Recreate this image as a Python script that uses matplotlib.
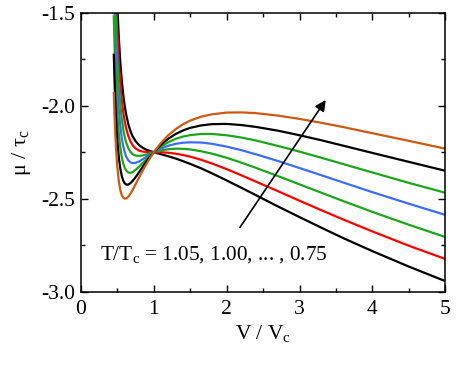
import matplotlib
matplotlib.use("Agg")
import matplotlib.pyplot as plt
from matplotlib.ticker import MultipleLocator

V = [0.45,0.46,0.47,0.48,0.49,0.50,0.52,0.54,0.56,0.58,0.60,0.62,0.65,0.68,0.71,0.75,0.8,0.85,0.9,0.95,
     1.0,1.1,1.2,1.3,1.4,1.5,1.65,1.8,2.0,2.2,2.4,2.7,3.0,3.3,3.6,4.0,4.5,5.0]

mu_105 = [-0.695,-0.909,-1.087,-1.236,-1.362,-1.469,-1.64,-1.768,-1.866,-1.941,-2,-2.047,-2.1,-2.138,-2.165,-2.191,-2.213,-2.227,-2.237,-2.244,-2.25,-2.261,-2.272,-2.284,-2.298,-2.313,-2.337,-2.364,-2.402,-2.441,-2.481,-2.541,-2.599,-2.656,-2.712,-2.782,-2.865,-2.943]
mu_100 = [-0.9,-1.099,-1.263,-1.401,-1.516,-1.614,-1.768,-1.883,-1.968,-2.034,-2.084,-2.122,-2.164,-2.193,-2.213,-2.23,-2.242,-2.247,-2.249,-2.25,-2.25,-2.25,-2.253,-2.258,-2.265,-2.274,-2.291,-2.311,-2.341,-2.374,-2.408,-2.459,-2.511,-2.562,-2.612,-2.676,-2.753,-2.824]
mu_095 = [-1.105,-1.289,-1.44,-1.565,-1.67,-1.758,-1.896,-1.997,-2.071,-2.126,-2.167,-2.198,-2.229,-2.249,-2.261,-2.268,-2.27,-2.267,-2.262,-2.256,-2.25,-2.24,-2.234,-2.231,-2.232,-2.235,-2.245,-2.258,-2.28,-2.306,-2.334,-2.378,-2.423,-2.468,-2.513,-2.571,-2.64,-2.706]
mu_090 = [-1.31,-1.478,-1.616,-1.729,-1.824,-1.902,-2.024,-2.111,-2.173,-2.218,-2.25,-2.273,-2.294,-2.305,-2.309,-2.307,-2.299,-2.287,-2.274,-2.262,-2.25,-2.23,-2.215,-2.205,-2.199,-2.197,-2.198,-2.205,-2.22,-2.239,-2.261,-2.297,-2.335,-2.374,-2.413,-2.465,-2.527,-2.587]
mu_085 = [-1.515,-1.668,-1.792,-1.894,-1.977,-2.047,-2.152,-2.225,-2.276,-2.311,-2.334,-2.348,-2.359,-2.361,-2.357,-2.345,-2.327,-2.307,-2.287,-2.268,-2.25,-2.22,-2.196,-2.178,-2.166,-2.158,-2.152,-2.152,-2.159,-2.171,-2.187,-2.216,-2.247,-2.28,-2.314,-2.359,-2.415,-2.468]
mu_080 = [-1.72,-1.857,-1.968,-2.058,-2.131,-2.191,-2.28,-2.339,-2.378,-2.403,-2.417,-2.424,-2.424,-2.416,-2.404,-2.384,-2.356,-2.327,-2.299,-2.274,-2.25,-2.209,-2.177,-2.152,-2.133,-2.119,-2.106,-2.099,-2.098,-2.104,-2.114,-2.134,-2.159,-2.186,-2.215,-2.254,-2.302,-2.35]
mu_075 = [-1.925,-2.047,-2.144,-2.222,-2.285,-2.335,-2.408,-2.454,-2.481,-2.495,-2.5,-2.499,-2.489,-2.472,-2.452,-2.422,-2.384,-2.347,-2.312,-2.28,-2.25,-2.199,-2.158,-2.126,-2.1,-2.08,-2.059,-2.046,-2.037,-2.036,-2.04,-2.053,-2.071,-2.092,-2.115,-2.148,-2.189,-2.231]

series = [mu_105, mu_100, mu_095, mu_090, mu_085, mu_080, mu_075]
colors = ["#000000", "#ff0000", "#1ca51c", "#3d6df5", "#1ca51c", "#000000", "#cc5a14"]

plt.rcParams['font.family'] = ['Liberation Serif', 'DejaVu Serif']
plt.rcParams['mathtext.fontset'] = 'custom'
plt.rcParams['mathtext.rm'] = 'Liberation Serif'
plt.rcParams['mathtext.it'] = 'Liberation Serif'

fig = plt.figure(figsize=(4.57, 3.66), dpi=100)
ax = fig.add_axes([0.1772, 0.2030, 0.7972, 0.7623])

for y, c in zip(series, colors):
    ax.plot(V, y, color=c, lw=1.6, solid_capstyle='butt')

ax.set_xlim(0, 5)
ax.set_ylim(-3.0, -1.5)
ax.xaxis.set_minor_locator(MultipleLocator(0.5))
ax.yaxis.set_minor_locator(MultipleLocator(0.25))
ax.set_yticks([-3.0, -2.5, -2.0, -1.5])
ax.set_yticklabels(["-3.0", "-2.5", "-2.0", "-1.5"])
ax.set_xticks([0, 1, 2, 3, 4, 5])
ax.set_xticklabels(["0", "1", "2", "3", "4", "5"])
ax.tick_params(which='both', direction='in', top=True, right=True, labelsize=15.5, width=1.0)
ax.tick_params(which='major', length=5)
ax.tick_params(axis='x', which='major', pad=6)
ax.tick_params(axis='y', which='major', pad=4)
ax.tick_params(which='minor', length=3)
for s in ax.spines.values():
    s.set_linewidth(1.1)

ax.set_xlabel(r"V / V$_\mathrm{c}$", fontsize=15.5, labelpad=3)
ax.set_ylabel(r"$\mathrm{\mu}$ / $\mathrm{\tau}_\mathrm{c}$", fontsize=16, labelpad=6)

ax.annotate("", xy=(3.38, -1.957), xytext=(2.16, -2.667),
            arrowprops=dict(arrowstyle="-|>", color="black", lw=1.2, mutation_scale=16))
ax.text(0.26, -2.80, r"T/T$_\mathrm{c}$ = 1.05, 1.00, ... , 0.75", fontsize=15.3, va='center', ha='left')

fig.savefig("out.png", dpi=100)
